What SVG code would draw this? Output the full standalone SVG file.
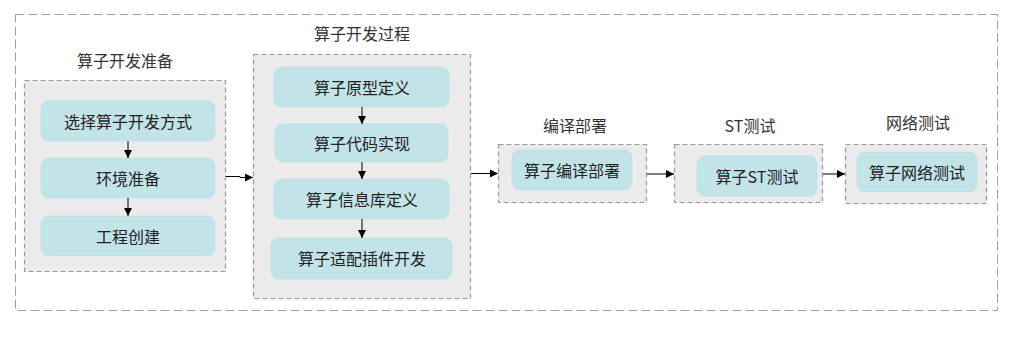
<svg xmlns="http://www.w3.org/2000/svg" width="1030" height="341" viewBox="0 0 1030 341">
<style>
.outer{fill:none;stroke:#a0a0a0;stroke-width:1;stroke-dasharray:9 4}
.grp{fill:#ebebeb;stroke:#9a9a9a;stroke-width:1.2;stroke-dasharray:5 3}
.node{fill:#c2e3e8;stroke:#b5dbe0;stroke-width:0.6}
.t{font-family:"Microsoft YaHei","Noto Sans CJK SC","Noto Sans",sans-serif;font-size:16px;fill:#222;text-anchor:middle;dominant-baseline:central}
.h{font-family:"Noto Sans CJK SC","Noto Sans",sans-serif;font-size:16px;fill:#333;text-anchor:middle;dominant-baseline:central}
.c{fill:none;stroke:#000;stroke-width:1}
</style>
<defs>
<marker id="ah" viewBox="0 0 10 10" refX="10" refY="5" markerWidth="8" markerHeight="8" markerUnits="userSpaceOnUse" orient="auto">
<path d="M0,0 L10,5 L0,10 z" fill="#000"/>
</marker>
</defs>
<rect class="outer" x="15.5" y="14.5" width="982" height="296"/>

<g id="g1">
<text class="h" x="125" y="60">算子开发准备</text>
<rect class="grp" x="24.5" y="80.5" width="201" height="191"/>
</g>
<g id="n1"><rect class="node" x="41" y="101" width="174" height="40" rx="8"/><text class="t" x="128" y="121">选择算子开发方式</text></g>
<g id="n2"><rect class="node" x="41" y="158" width="174" height="40" rx="8"/><text class="t" x="128" y="178">环境准备</text></g>
<g id="n3"><rect class="node" x="41" y="216" width="174" height="40" rx="8"/><text class="t" x="128" y="236">工程创建</text></g>

<g id="g2">
<text class="h" x="362" y="33">算子开发过程</text>
<rect class="grp" x="253.5" y="54.5" width="217" height="244"/>
</g>
<g id="n4"><rect class="node" x="274" y="67" width="175" height="40" rx="8"/><text class="t" x="362" y="87">算子原型定义</text></g>
<g id="n5"><rect class="node" x="275" y="124" width="173" height="38" rx="8"/><text class="t" x="362" y="143">算子代码实现</text></g>
<g id="n6"><rect class="node" x="274" y="179" width="175" height="40" rx="8"/><text class="t" x="362" y="199">算子信息库定义</text></g>
<g id="n7"><rect class="node" x="271" y="238" width="181" height="41" rx="8"/><text class="t" x="362" y="258">算子适配插件开发</text></g>

<g id="g3">
<text class="h" x="575" y="125">编译部署</text>
<rect class="grp" x="498.5" y="144.5" width="148" height="58"/>
</g>
<g id="n8"><rect class="node" x="512" y="150" width="120" height="40" rx="8"/><text class="t" x="572" y="170">算子编译部署</text></g>

<g id="g4">
<text class="h" x="750" y="125">ST测试</text>
<rect class="grp" x="674.5" y="144.5" width="148" height="58"/>
</g>
<g id="n9"><rect class="node" x="697" y="156" width="120" height="40" rx="8"/><text class="t" x="757" y="176">算子ST测试</text></g>

<g id="g5">
<text class="h" x="918" y="122">网络测试</text>
<rect class="grp" x="845.5" y="144.5" width="141" height="59"/>
</g>
<g id="n10"><rect class="node" x="857" y="152" width="120" height="40" rx="8"/><text class="t" x="917" y="172">算子网络测试</text></g>

<g id="connectors">
<line class="c" x1="128" y1="141" x2="128" y2="158" marker-end="url(#ah)"/>
<line class="c" x1="128" y1="198" x2="128" y2="216" marker-end="url(#ah)"/>
<polyline class="c" points="226,176.5 240,176.5 240,177.5 253,177.5" marker-end="url(#ah)"/>
<line class="c" x1="362" y1="107" x2="362" y2="124" marker-end="url(#ah)"/>
<line class="c" x1="362" y1="162" x2="362" y2="179" marker-end="url(#ah)"/>
<line class="c" x1="362" y1="219" x2="362" y2="238" marker-end="url(#ah)"/>
<line class="c" x1="471" y1="173.5" x2="498" y2="173.5" marker-end="url(#ah)"/>
<line class="c" x1="647" y1="174" x2="674" y2="174" marker-end="url(#ah)"/>
<line class="c" x1="823" y1="174" x2="845" y2="174" marker-end="url(#ah)"/>
</g>
</svg>
